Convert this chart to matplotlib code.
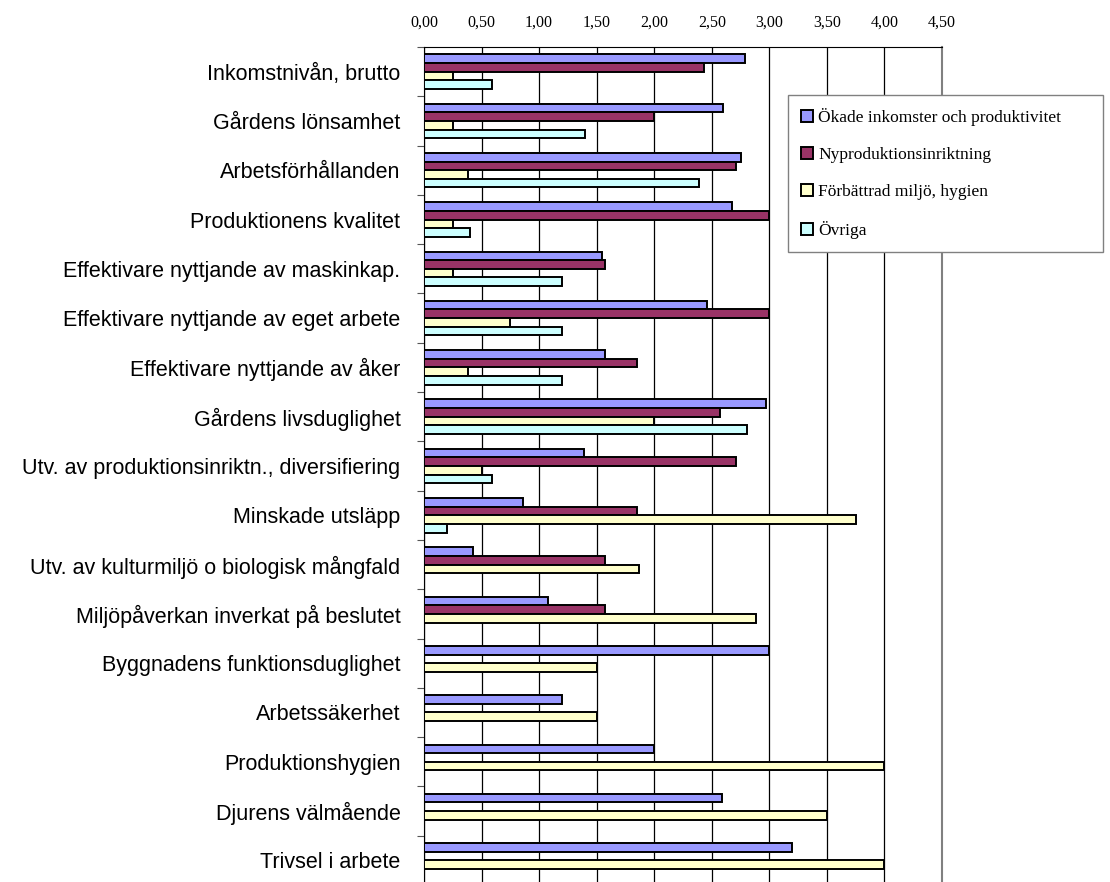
import numpy as np
import matplotlib.pyplot as plt
from matplotlib.ticker import FixedLocator, FuncFormatter

categories = [
    'Inkomstnivån, brutto',
    'Gårdens lönsamhet',
    'Arbetsförhållanden',
    'Produktionens kvalitet',
    'Effektivare nyttjande av maskinkap.',
    'Effektivare nyttjande av eget arbete',
    'Effektivare nyttjande av åker',
    'Gårdens livsduglighet',
    'Utv. av produktionsinriktn., diversifiering',
    'Minskade utsläpp',
    'Utv. av kulturmiljö o biologisk mångfald',
    'Miljöpåverkan inverkat på beslutet',
    'Byggnadens funktionsduglighet',
    'Arbetssäkerhet',
    'Produktionshygien',
    'Djurens välmående',
    'Trivsel i arbete',
]

nan = np.nan
okade = [2.79, 2.60, 2.75, 2.68, 1.55, 2.46, 1.57, 2.97, 1.39, 0.86, 0.43, 1.08,
         3.00, 1.20, 2.00, 2.59, 3.20]
nyprod = [2.43, 2.00, 2.71, 3.00, 1.57, 3.00, 1.85, 2.57, 2.71, 1.85, 1.57, 1.57,
          nan, nan, nan, nan, nan]
miljo = [0.25, 0.25, 0.38, 0.25, 0.25, 0.75, 0.38, 2.00, 0.50, 3.75, 1.87, 2.88,
         1.50, 1.50, 4.00, 3.50, 4.00]
ovriga = [0.59, 1.40, 2.39, 0.40, 1.20, 1.20, 1.20, 2.81, 0.59, 0.20, nan, nan,
          nan, nan, nan, nan, nan]

series = [okade, nyprod, miljo, ovriga]
labels = ['Ökade inkomster och produktivitet', 'Nyproduktionsinriktning',
          'Förbättrad miljö, hygien', 'Övriga']
colors = ['#9999FF', '#993366', '#FFFFCC', '#CCFFFF']

fig = plt.figure(figsize=(11.1, 8.82), dpi=100)
ax = fig.add_axes([424 / 1110, 1 - 885 / 882, 518 / 1110, 838 / 882])

y = np.arange(len(categories))
h = 0.175
for i, (vals, lab, col) in enumerate(zip(series, labels, colors)):
    ax.barh(y + (i - 1.5) * h, vals, height=h, color=col, edgecolor='black',
            linewidth=1.4, label=lab, zorder=3)

ax.set_xlim(0, 4.5)
ax.set_ylim(len(categories) - 0.5, -0.5)

# x axis on top, comma decimals
ax.xaxis.tick_top()
ax.set_xticks(np.arange(0, 4.51, 0.5))
ax.xaxis.set_major_formatter(FuncFormatter(lambda v, p: ('%.2f' % v).replace('.', ',')))
ax.tick_params(axis='x', length=0, pad=12, labelsize=11.5)
for t in ax.get_xticklabels():
    t.set_family('Liberation Serif')
ax.grid(axis='x', color='black', linewidth=0.9, zorder=0)

# y: ticks between groups, labels at group centres
ax.yaxis.set_major_locator(FixedLocator(np.arange(-0.5, len(categories), 1.0)))
ax.yaxis.set_major_formatter(FuncFormatter(lambda v, p: ''))
ax.yaxis.set_minor_locator(FixedLocator(y))
ax.set_yticklabels(categories, minor=True)
ax.tick_params(axis='y', which='major', direction='out', length=5, color='#555555')
ax.tick_params(axis='y', which='minor', length=0, pad=17, labelsize=15.5)
for t in ax.get_yticklabels(minor=True):
    t.set_family('Liberation Sans')

ax.spines['left'].set_color('black')
ax.spines['top'].set_color('black')
ax.spines['right'].set_color('#808080')
ax.spines['right'].set_linewidth(1.5)
ax.spines['bottom'].set_visible(False)

leg = fig.legend(loc='upper left',
                 bbox_to_anchor=(788 / 1110, 1 - 95 / 882, 315 / 1110, 0.0),
                 mode='expand', borderaxespad=0, fancybox=False,
                 edgecolor='#808080', framealpha=1, handlelength=0.7,
                 handleheight=0.7, handletextpad=0.3, labelspacing=1.2,
                 borderpad=0.75, prop={'family': 'Liberation Serif', 'size': 12.5})
leg.get_frame().set_linewidth(1.0)

plt.savefig('out.png', dpi=100)
